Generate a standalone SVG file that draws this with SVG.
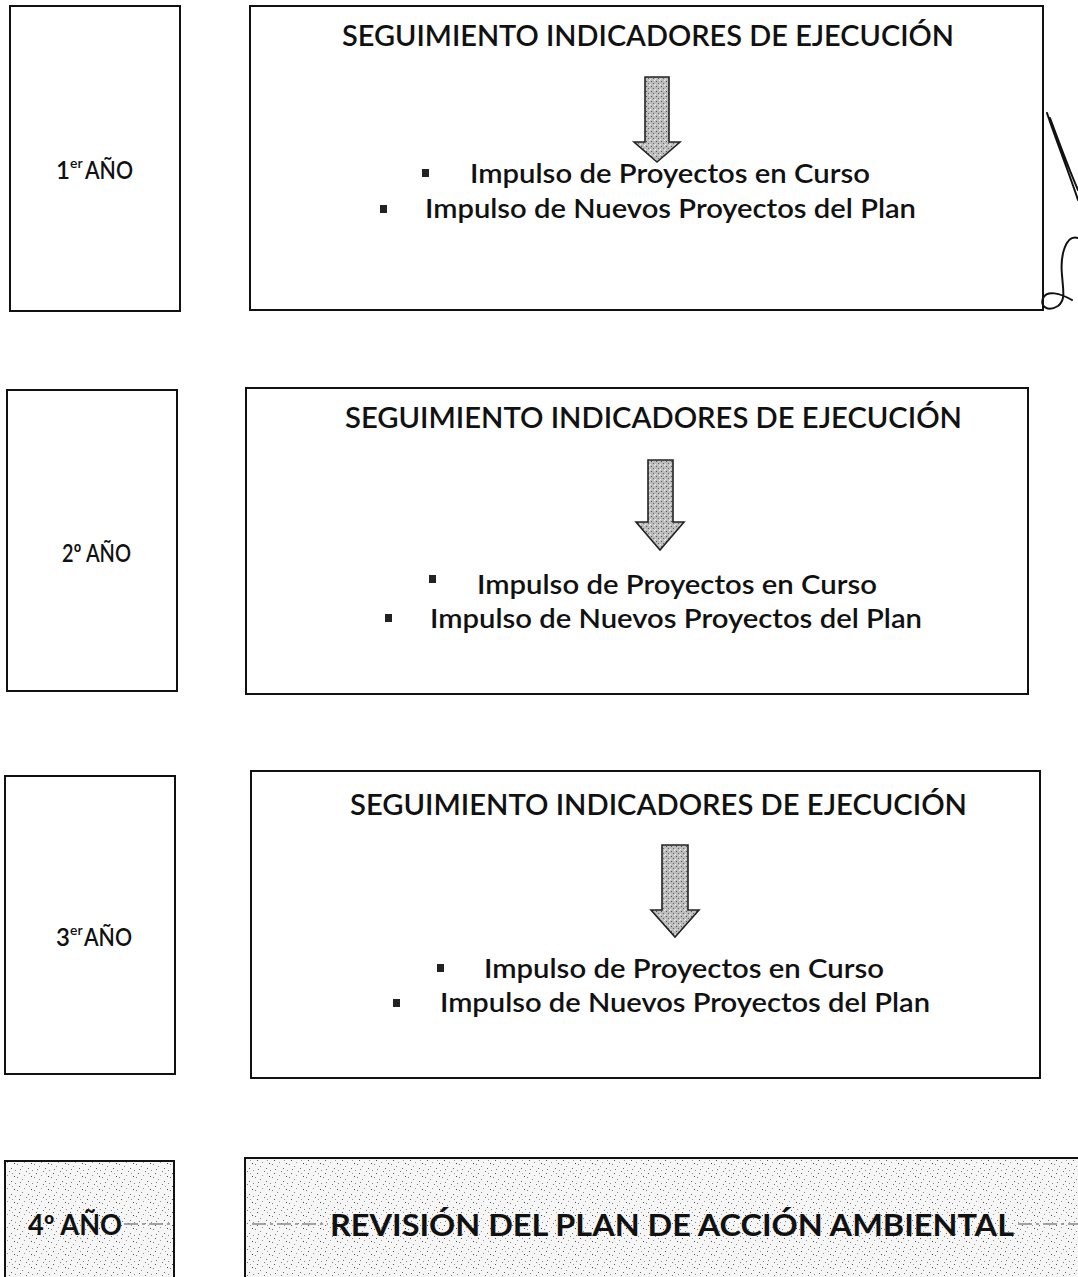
<svg xmlns="http://www.w3.org/2000/svg" width="1078" height="1277" viewBox="0 0 1078 1277">
<defs>
<style>
.box{fill:#fff;stroke:#111;stroke-width:2}
.gbox{fill:url(#speck);stroke:#111;stroke-width:2}
.yr{font-family:Lato,"Open Sans",sans-serif;font-size:24px;font-weight:600;fill:#111}
.sup{font-family:Lato,"Open Sans",sans-serif;font-size:14px;font-weight:600;fill:#111}
.yrb{font-family:Lato,"Open Sans",sans-serif;font-size:28px;font-weight:bold;fill:#111}
.ttl{font-family:Lato,"Open Sans",sans-serif;font-size:28px;font-weight:600;fill:#111}
.itm{font-family:Lato,"Open Sans",sans-serif;font-size:26px;font-weight:600;fill:#111}
.rev{font-family:Lato,"Open Sans",sans-serif;font-size:31px;font-weight:bold;fill:#111}
.arr{fill:url(#stip);stroke:#222;stroke-width:1.6}
.bul{fill:#222}
.dash{stroke:#888;stroke-width:1.5;stroke-dasharray:14 4 3 4;fill:none}
.sig{fill:none;stroke:#111;stroke-width:2;stroke-linecap:round}
</style>
<pattern id="speck" width="17" height="13" patternUnits="userSpaceOnUse">
<rect width="17" height="13" fill="#f6f6f6"/>
<rect x="2" y="3" width="1" height="1" fill="#555"/>
<rect x="9" y="1" width="1" height="1" fill="#777"/>
<rect x="14" y="6" width="1" height="1" fill="#444"/>
<rect x="5" y="9" width="1" height="1" fill="#888"/>
<rect x="11" y="11" width="1" height="1" fill="#666"/>
<rect x="7" y="5" width="1" height="1" fill="#999"/>
<rect x="0" y="7" width="1" height="1" fill="#777"/>
<rect x="15" y="0" width="1" height="1" fill="#888"/>
<rect x="12" y="3" width="1" height="1" fill="#999"/>
<rect x="3" y="12" width="1" height="1" fill="#777"/>
</pattern>
<pattern id="stip" width="5" height="5" patternUnits="userSpaceOnUse">
<rect width="5" height="5" fill="#bdbdbd"/>
<rect x="1" y="1" width="1" height="1" fill="#555"/>
<rect x="3" y="3" width="1" height="1" fill="#666"/>
<rect x="4" y="0" width="1" height="1" fill="#eee"/>
<rect x="0" y="4" width="1" height="1" fill="#eee"/>
</pattern>
</defs>
<rect width="1078" height="1277" fill="#fff"/>

<g id="year1">
<rect class="box" x="10" y="6" width="170" height="305"/>
<text class="yr" x="56" y="179">1</text>
<text class="sup" x="70" y="168">er</text>
<text class="yr" x="85" y="179" textLength="48" lengthAdjust="spacingAndGlyphs">AÑO</text>
</g>
<g id="row1">
<rect class="box" x="250" y="6" width="793" height="304"/>
<text class="ttl" x="342" y="46" textLength="612" lengthAdjust="spacingAndGlyphs">SEGUIMIENTO INDICADORES DE EJECUCIÓN</text>
<path class="arr" d="M645,77 H669 V142 H680 L657,162 L634,142 H645 Z"/>
<rect class="bul" x="422" y="169" width="7" height="8"/>
<text class="itm" x="470" y="183" textLength="400" lengthAdjust="spacingAndGlyphs">Impulso de Proyectos en Curso</text>
<rect class="bul" x="380" y="205" width="7" height="8"/>
<text class="itm" x="425" y="218" textLength="491" lengthAdjust="spacingAndGlyphs">Impulso de Nuevos Proyectos del Plan</text>
</g>

<g id="year2">
<rect class="box" x="7" y="390" width="170" height="301"/>
<text class="yr" x="62" y="562" textLength="69" lengthAdjust="spacingAndGlyphs">2º AÑO</text>
</g>
<g id="row2">
<rect class="box" x="246" y="388" width="782" height="306"/>
<text class="ttl" x="345" y="428" textLength="617" lengthAdjust="spacingAndGlyphs">SEGUIMIENTO INDICADORES DE EJECUCIÓN</text>
<path class="arr" d="M648,460 H673 V522 H684 L660,550 L636,522 H648 Z"/>
<rect class="bul" x="429" y="575" width="7" height="8"/>
<text class="itm" x="477" y="594" textLength="400" lengthAdjust="spacingAndGlyphs">Impulso de Proyectos en Curso</text>
<rect class="bul" x="385" y="614" width="7" height="8"/>
<text class="itm" x="430" y="628" textLength="492" lengthAdjust="spacingAndGlyphs">Impulso de Nuevos Proyectos del Plan</text>
</g>

<g id="year3">
<rect class="box" x="5" y="776" width="170" height="298"/>
<text class="yr" x="56" y="946">3</text>
<text class="sup" x="70" y="935">er</text>
<text class="yr" x="84" y="946" textLength="48" lengthAdjust="spacingAndGlyphs">AÑO</text>
</g>
<g id="row3">
<rect class="box" x="251" y="771" width="789" height="307"/>
<text class="ttl" x="350" y="815" textLength="617" lengthAdjust="spacingAndGlyphs">SEGUIMIENTO INDICADORES DE EJECUCIÓN</text>
<path class="arr" d="M662,845 H688 V910 H699 L675,937 L651,910 H662 Z"/>
<rect class="bul" x="437" y="964" width="7" height="8"/>
<text class="itm" x="484" y="978" textLength="400" lengthAdjust="spacingAndGlyphs">Impulso de Proyectos en Curso</text>
<rect class="bul" x="393" y="999" width="7" height="8"/>
<text class="itm" x="440" y="1012" textLength="490" lengthAdjust="spacingAndGlyphs">Impulso de Nuevos Proyectos del Plan</text>
</g>

<g id="year4">
<rect class="gbox" x="5" y="1161" width="169" height="130"/>
<path class="dash" d="M124,1224 H173"/>
<text class="yrb" x="28" y="1235" textLength="94" lengthAdjust="spacingAndGlyphs">4º AÑO</text>
</g>
<g id="row4">
<rect class="gbox" x="245" y="1158" width="850" height="135"/>
<path class="dash" d="M252,1224 H328 M1018,1224 H1078"/>
<text class="rev" x="330" y="1236" textLength="684" lengthAdjust="spacingAndGlyphs">REVISIÓN DEL PLAN DE ACCIÓN AMBIENTAL</text>
</g>

<g id="connectors"></g>

<g id="signature">
<path class="sig" d="M1047,113 C1056,140 1068,170 1078,200 M1050,118 C1060,145 1070,172 1078,190"/>
<path class="sig" d="M1078,238 C1066,234 1060,255 1062,275 C1063,290 1066,300 1058,306 C1048,312 1040,307 1043,298 C1047,290 1060,293 1072,300"/>
</g>
</svg>
